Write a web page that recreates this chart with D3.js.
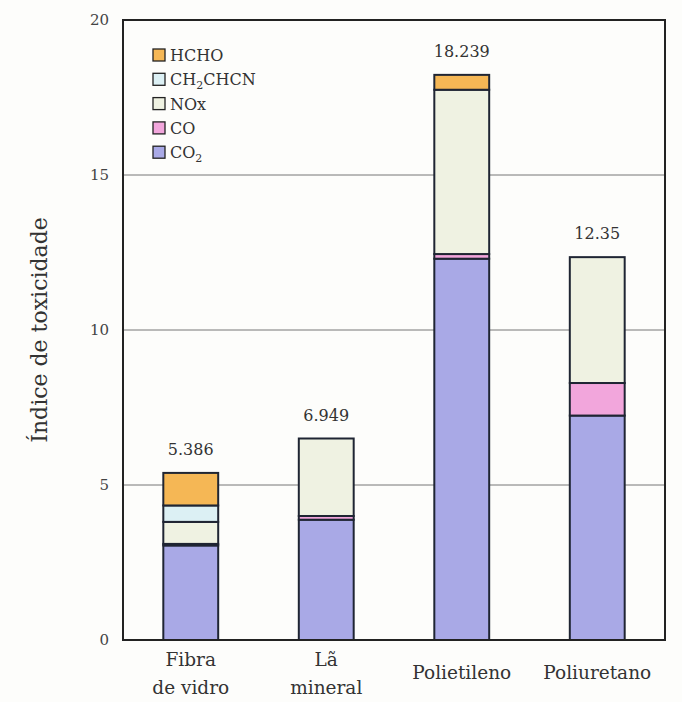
<!DOCTYPE html>
<html><head><meta charset="utf-8">
<script src="https://cdn.jsdelivr.net/npm/d3@7"></script>
<style>body{margin:0;background:#fdfdfb;} svg{display:block;}</style>
</head><body>
<svg id="c" width="682" height="702"></svg>
<script>
const categories = ["Fibra\nde vidro", "Lã\nmineral", "Polietileno", "Poliuretano"];
const totalLabels = ["5.386", "6.949", "18.239", "12.35"];
const seriesNames = ["CO2", "CO", "NOx", "CH2CHCN", "HCHO"];
const CO2 = [3.05, 3.88, 12.30, 7.24];
const CO = [0.05, 0.12, 0.15, 1.05];
const NOx = [0.71, 2.50, 5.30, 4.06];
const CH2CHCN = [0.53, 0, 0, 0];
const HCHO = [1.05, 0, 0.48, 0];
const yTicks = [0, 5, 10, 15, 20];
const colors = {CO2:"#a9a9e6", CO:"#f2a6dc", NOx:"#eff2e2", CH2CHCN:"#dcf0f4", HCHO:"#f5b755"};
const legendOrder = ["HCHO","CH2CHCN","NOx","CO","CO2"];

const svg = d3.select("#c");
const m = {l:123, r:665, t:20, b:640};
const x = d3.scaleBand().domain(categories).range([m.l, m.r]).paddingInner(0.595).paddingOuter(0.2975);
const y = d3.scaleLinear().domain([0,20]).range([m.b, m.t]);
const serif = 'DejaVu Serif';

svg.append("rect").attr("width",682).attr("height",702).attr("fill","#fdfdfb");

svg.append("g").selectAll("line").data(yTicks.filter(t=>t>0&&t<20)).join("line")
  .attr("x1",m.l).attr("x2",m.r).attr("y1",d=>y(d)).attr("y2",d=>y(d))
  .attr("stroke","#777").attr("stroke-width",1);

const rows = categories.map((c,i)=>({cat:c, CO2:CO2[i], CO:CO[i], NOx:NOx[i], CH2CHCN:CH2CHCN[i], HCHO:HCHO[i]}));
const stack = d3.stack().keys(seriesNames)(rows);
stack.forEach(layer=>{
  svg.append("g").selectAll("rect").data(layer.filter(d=>d[1]-d[0]>0)).join("rect")
    .attr("x",d=>x(d.data.cat)).attr("width",x.bandwidth())
    .attr("y",d=>y(d[1])).attr("height",d=>y(d[0])-y(d[1]))
    .attr("fill",colors[layer.key]).attr("stroke","#1f2533").attr("stroke-width",2);
});

svg.append("g").selectAll("text").data(rows).join("text")
  .attr("x",d=>x(d.cat)+x.bandwidth()/2)
  .attr("y",d=>y(seriesNames.reduce((s,k)=>s+d[k],0))-18)
  .attr("text-anchor","middle").attr("font-family",serif).attr("font-size",16).attr("fill","#333")
  .text((d,i)=>totalLabels[i]);

svg.append("rect").attr("x",m.l).attr("y",m.t).attr("width",m.r-m.l).attr("height",m.b-m.t)
  .attr("fill","none").attr("stroke","#222").attr("stroke-width",2);

const ya = svg.append("g").attr("transform",`translate(${m.l},0)`)
  .call(d3.axisLeft(y).tickValues(yTicks).tickSize(0).tickPadding(14));
ya.select(".domain").remove();
ya.selectAll("text").attr("font-family",serif).attr("font-size",15).attr("fill","#444");

const xa = svg.append("g").attr("transform",`translate(0,${m.b})`)
  .call(d3.axisBottom(x).tickSize(0).tickFormat(""));
xa.select(".domain").remove();
categories.forEach(c=>{
  const lines = c.split("\n");
  const t = svg.append("text").attr("x",x(c)+x.bandwidth()/2).attr("text-anchor","middle")
    .attr("font-family",serif).attr("font-size",18.5).attr("fill","#333");
  if(lines.length===1){ t.attr("y",679).text(lines[0]); }
  else lines.forEach((l,j)=>t.append("tspan").attr("x",x(c)+x.bandwidth()/2).attr("y",666+j*28).text(l));
});

svg.append("text").attr("transform","translate(47,330) rotate(-90)").attr("text-anchor","middle")
  .attr("font-family",serif).attr("font-size",22).attr("fill","#333").text("Índice de toxicidade");

const lg = svg.append("g");
legendOrder.forEach((k,i)=>{
  const yy = 55 + i*24.3;
  lg.append("rect").attr("x",153).attr("y",yy-6).attr("width",12).attr("height",12)
    .attr("fill",colors[k]).attr("stroke","#222").attr("stroke-width",1.3);
  const t = lg.append("text").attr("x",170).attr("y",yy+6).attr("font-family",serif).attr("font-size",16).attr("fill","#333");
  if(k==="CH2CHCN"){ t.append("tspan").text("CH"); t.append("tspan").attr("font-size",11).attr("dy",4).text("2"); t.append("tspan").attr("dy",-4).text("CHCN"); }
  else if(k==="CO2"){ t.append("tspan").text("CO"); t.append("tspan").attr("font-size",11).attr("dy",4).text("2"); }
  else t.text(k);
});
</script>
</body></html>
